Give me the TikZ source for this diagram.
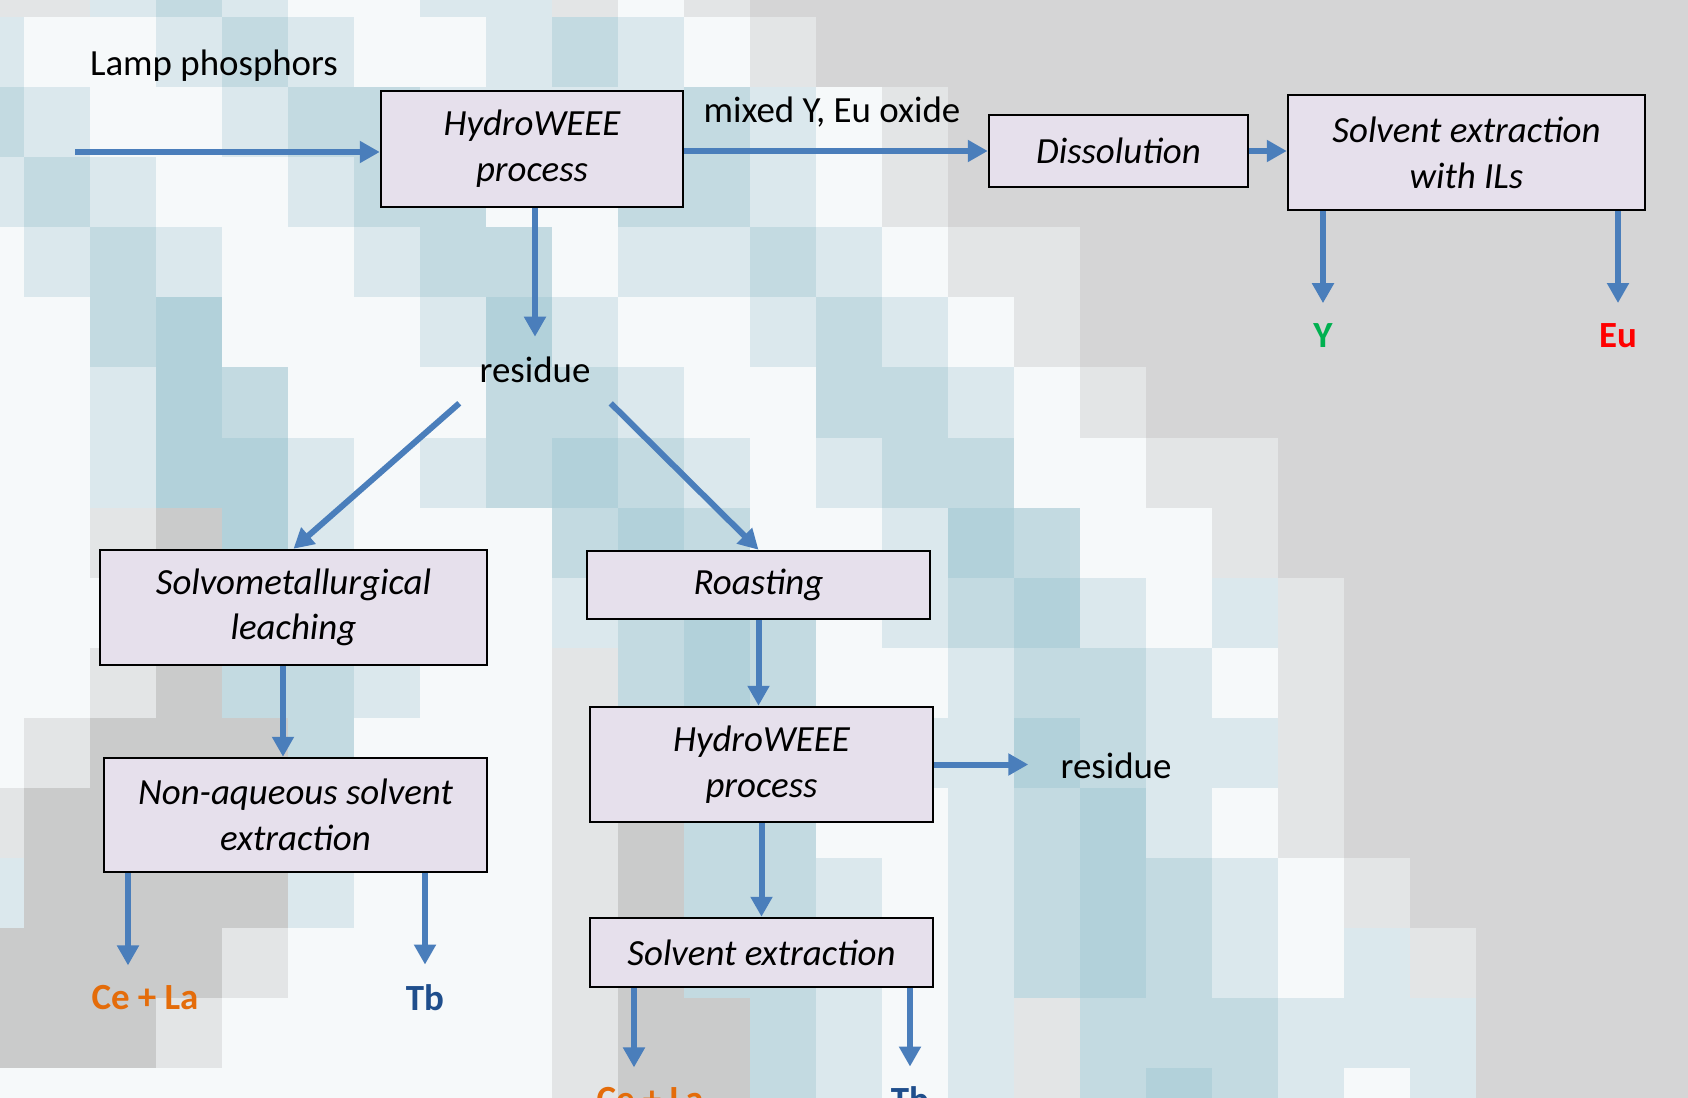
\documentclass[tikz,border=0pt]{standalone}
\usepackage{fontspec}
\setmainfont{Carlito}
\usetikzlibrary{arrows.meta,calc}

\definecolor{arrblue}{HTML}{4A7EBB}
\definecolor{boxfill}{HTML}{E6E0EC}
\definecolor{ygreen}{HTML}{00B050}
\definecolor{eured}{HTML}{FF0000}
\definecolor{ceorange}{HTML}{E46C0A}
\definecolor{tbblue}{HTML}{1F4E8C}
\definecolor{bgW}{HTML}{F6F9FA}
\definecolor{bgL}{HTML}{DBE8ED}
\definecolor{bgM}{HTML}{C3DAE1}
\definecolor{bgD}{HTML}{B2D1DA}
\definecolor{bgg}{HTML}{E3E5E6}
\definecolor{bgG}{HTML}{CACBCB}
\definecolor{bgR}{HTML}{D5D5D6}

\begin{document}
\begin{tikzpicture}[x=0.02cm,y=-0.02cm,
    box/.style={draw=black,line width=0.05cm,fill=boxfill,inner sep=0pt,align=center,
      font=\fontsize{21}{26}\selectfont\itshape},
    txt/.style={inner sep=0.4cm,font=\fontsize{21}{26}\selectfont},
    prod/.style={inner sep=0.4cm,font=\fontsize{21}{26}\selectfont\bfseries},
    arr/.style={arrblue,line width=0.12cm,-{Triangle[width=0.42cm,length=0.4cm]}}]

      \useasboundingbox (0,0) rectangle (1688,1098);
      \clip (0,0) rectangle (1688,1098);

      % mosaic background
      \foreach \row [count=\r from 0] in {
        {g,g,L,M,L,W,W,L,L,g,W,g,R,R,R,R,R,R,R,R,R,R,R,R,R,R,R},
        {L,W,W,L,M,L,W,W,L,M,L,W,g,R,R,R,R,R,R,R,R,R,R,R,R,R,R},
        {M,L,W,W,L,M,M,L,L,L,L,M,L,W,g,R,R,R,R,R,R,R,R,R,R,R,R},
        {L,M,L,W,W,L,M,M,W,W,M,M,L,W,g,R,R,R,R,R,R,R,R,R,R,R,R},
        {W,L,M,L,W,W,L,M,M,W,L,L,M,L,W,g,g,R,R,R,R,R,R,R,R,R,R},
        {W,W,M,D,W,W,W,L,D,L,W,W,L,M,L,W,g,R,R,R,R,R,R,R,R,R,R},
        {W,W,L,D,M,W,W,W,M,M,L,W,W,M,M,L,W,g,R,R,R,R,R,R,R,R,R},
        {W,W,L,D,D,L,W,L,M,D,M,L,W,L,M,M,W,W,g,g,R,R,R,R,R,R,R},
        {W,W,g,G,D,L,W,W,W,M,D,M,W,W,L,D,M,W,W,g,R,R,R,R,R,R,R},
        {W,W,W,W,W,W,W,W,W,L,M,D,M,W,L,M,D,L,W,L,g,R,R,R,R,R,R},
        {W,W,g,G,M,M,L,W,W,g,M,D,M,W,W,L,M,M,L,W,g,R,R,R,R,R,R},
        {W,g,G,G,G,M,W,W,W,g,G,M,M,W,L,L,D,M,L,L,g,R,R,R,R,R,R},
        {g,G,G,G,G,M,W,W,W,g,G,M,M,W,W,L,M,D,L,W,g,R,R,R,R,R,R},
        {L,G,G,G,G,L,W,W,W,g,G,M,M,L,W,L,M,D,M,L,W,g,R,R,R,R,R},
        {G,G,G,G,g,W,W,W,W,g,G,M,M,L,W,L,M,D,M,L,W,L,g,R,R,R,R},
        {G,G,G,g,W,W,W,W,W,g,G,G,M,L,W,L,g,M,M,M,L,L,L,R,R,R,R},
        {W,W,W,W,W,W,W,W,W,g,G,G,M,L,W,L,g,M,D,M,L,W,L,R,R,R,R}}{
        \foreach \col [count=\n from 0] in \row
          \fill[fill=bg\col] (-42+66*\n,-52.5+70*\r) rectangle ++(67,71);
      }

      \node[txt] (l) at (214,66) {Lamp phosphors};
      \coordinate (s) at (75,152);
      \node[box,minimum width=6.04cm,minimum height=2.32cm] (a) at (532,149) {HydroWEEE\\process};
      \node[txt] (m) at (832,112) {mixed Y, Eu oxide};
      \node[box,minimum width=5.18cm,minimum height=1.44cm] (b) at (1118.5,151) {Dissolution};
      \node[box,minimum width=7.14cm,minimum height=2.3cm] (c) at (1466.5,152.5) {Solvent extraction\\with ILs};
      \node[prod,text=ygreen] (y) at (1323,335.5) {Y};
      \node[prod,text=eured] (e) at (1618,335.5) {Eu};

      \node[txt] (r) at (535,370) {residue};

      \node[box,minimum width=7.74cm,minimum height=2.3cm] (d) at (293.5,607.5) {Solvometallurgical\\leaching};
      \node[box,minimum width=7.66cm,minimum height=2.28cm] (g) at (295.5,815) {Non-aqueous solvent\\extraction};
      \node[prod,text=ceorange] (p) at (145,998) {Ce + La};
      \node[prod,text=tbblue] (q) at (425,998) {Tb};

      \node[box,minimum width=6.86cm,minimum height=1.36cm] (h) at (758.5,585) {Roasting};
      \node[box,minimum width=6.86cm,minimum height=2.3cm] (f) at (761.5,764.5) {HydroWEEE\\process};
      \node[txt,inner xsep=0.64cm] (t) at (1116,766) {residue};
      \node[box,minimum width=6.86cm,minimum height=1.38cm] (k) at (761.5,952.5) {Solvent extraction};
      \node[prod,text=ceorange] (u) at (650,1100) {Ce + La};
      \node[prod,text=tbblue] (v) at (910,1100) {Tb};

      \draw[arr] (s) -- (s -| a.west);
      \draw[arr] (a.east |- b) -- (b.west);
      \draw[arr] (b.east) -- (b.east -| c.west);
      \draw[arr] (c.south -| y) -- (y.north);
      \draw[arr] (c.south -| e) -- (e.north);
      \draw[arr] (a.south -| r) -- (r.north);
      \draw[arr] (r.south west) -- (d.north);
      \draw[arr] (r.south east) -- (h.north);
      \draw[arr] ($(d.south)+(-10.5,0)$) -- ($(d.south |- g.north)+(-10.5,0)$);
      \draw[arr] ($(g.south -| p)+(-17,0)$) -- ($(p.north)+(-17,0)$);
      \draw[arr] (g.south -| q) -- (q.north);
      \draw[arr] (h.south) -- (h.south |- f.north);
      \draw[arr] (f.east) -- (f.east -| t.west);
      \draw[arr] (f.south) -- (f.south |- k.north);
      \draw[arr] ($(k.south -| u)+(-16,0)$) -- ($(u.north)+(-16,0)$);
      \draw[arr] (k.south -| v) -- (v.north);
    \end{tikzpicture}
\end{document}
